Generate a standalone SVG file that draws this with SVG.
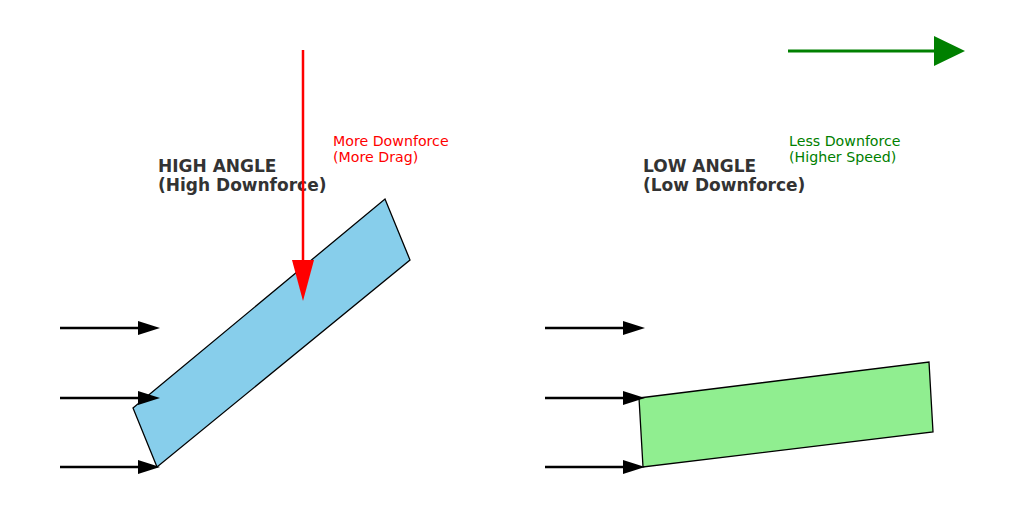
<svg xmlns="http://www.w3.org/2000/svg" width="1024" height="512" viewBox="0 0 1024 512">
<style>
.t{font-family:"DejaVu Sans",sans-serif;font-size:17px;font-weight:bold;fill:#333}
.s{font-family:"DejaVu Sans",sans-serif;font-size:14.2px}
.w{stroke:#000;stroke-width:1.3}
.a{stroke:#000;stroke-width:2.5}
</style>
<rect width="1024" height="512" fill="#fff"/>
<g id="wing-high"><polygon class="w" points="133,408 385,199 410,260 157,467" fill="#87CEEB"/></g>
<g id="wing-low"><polygon class="w" points="639,398 929,362 933,432 643,467" fill="#90EE90"/></g>
<g id="labels">
<text class="t" x="158" y="172">HIGH ANGLE</text>
<text class="t" x="158" y="191">(High Downforce)</text>
<text class="t" x="643" y="172">LOW ANGLE</text>
<text class="t" x="643" y="191">(Low Downforce)</text>
<text class="s" x="333" y="146" fill="#f00">More Downforce</text>
<text class="s" x="333" y="162" fill="#f00">(More Drag)</text>
<text class="s" x="789" y="146" fill="#008000">Less Downforce</text>
<text class="s" x="789" y="162" fill="#008000">(Higher Speed)</text>
</g>
<g id="connectors">
<line class="a" x1="60" y1="328" x2="140" y2="328"/><polygon points="138,321 160,328 138,335"/>
<line class="a" x1="60" y1="398" x2="140" y2="398"/><polygon points="138,391 160,398 138,405"/>
<line class="a" x1="60" y1="467" x2="140" y2="467"/><polygon points="138,460 160,467 138,474"/>
<line class="a" x1="545" y1="328" x2="625" y2="328"/><polygon points="623,321 645,328 623,335"/>
<line class="a" x1="545" y1="398" x2="625" y2="398"/><polygon points="623,391 645,398 623,405"/>
<line class="a" x1="545" y1="467" x2="625" y2="467"/><polygon points="623,460 645,467 623,474"/>
<line x1="303" y1="50" x2="303" y2="262" stroke="#f00" stroke-width="2.5"/><polygon points="292,260 314,260 303,301" fill="#f00"/>
<line x1="788" y1="51" x2="936" y2="51" stroke="#008000" stroke-width="3"/><polygon points="934,36 965,51 934,66" fill="#008000"/>
</g>
</svg>
